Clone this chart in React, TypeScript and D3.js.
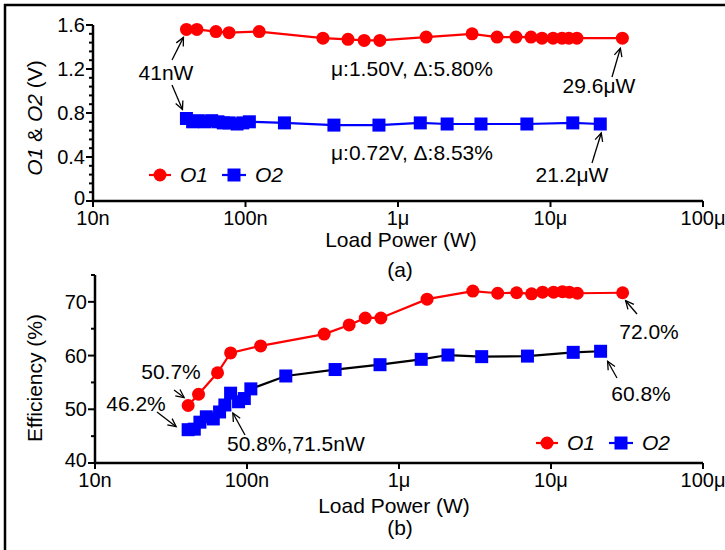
import * as d3 from 'd3'

const xTicks = [1e-8, 1e-7, 1e-6, 1e-5, 1e-4]
const xTickLabels = ['10n', '100n', '1μ', '10μ', '100μ']

const o1Power = [41e-9, 48e-9, 64e-9, 78e-9, 123e-9, 322e-9, 470e-9, 600e-9, 760e-9, 1.53e-6, 3.06e-6, 4.46e-6, 5.94e-6, 7.45e-6, 8.8e-6, 10.4e-6, 11.9e-6, 13.2e-6, 14.9e-6, 29.6e-6]
const o1Volt = [1.56, 1.56, 1.54, 1.53, 1.54, 1.48, 1.47, 1.46, 1.46, 1.49, 1.52, 1.49, 1.49, 1.49, 1.48, 1.48, 1.48, 1.48, 1.48, 1.48]
const o1Eff = [50.7, 52.8, 56.8, 60.5, 61.8, 64.0, 65.7, 67.0, 67.0, 70.5, 72.0, 71.6, 71.7, 71.5, 71.8, 71.8, 71.9, 71.8, 71.6, 71.7]

const o2Power = [41e-9, 45e-9, 49e-9, 54e-9, 60e-9, 66e-9, 71.5e-9, 78e-9, 88e-9, 96e-9, 106e-9, 180e-9, 380e-9, 750e-9, 1.4e-6, 2.1e-6, 3.5e-6, 7e-6, 14e-6, 21.2e-6]
const o2Volt = [0.75, 0.72, 0.73, 0.72, 0.73, 0.72, 0.71, 0.71, 0.70, 0.71, 0.72, 0.71, 0.69, 0.69, 0.71, 0.70, 0.70, 0.70, 0.71, 0.70]
const o2Eff = [46.2, 46.3, 47.6, 48.6, 48.2, 49.5, 50.8, 53.0, 51.4, 52.0, 53.8, 56.2, 57.4, 58.3, 59.3, 60.1, 59.8, 59.9, 60.6, 60.8]

const voltTicks = [0, 0.4, 0.8, 1.2, 1.6]
const effTicks = [40, 50, 60, 70]

const RED = '#ff0000'
const BLUE = '#0000ff'
const FONT = '"Liberation Sans", Arial, sans-serif'
const TICK_FS = 20
const TXT_FS = 21

// open arrow from (x1,y1) to tip (x2,y2)
const Arrow = ({ x1, y1, x2, y2 }) => {
  const a = Math.atan2(y2 - y1, x2 - x1)
  const L = 9, s = 0.45
  const p1 = [x2 - L * Math.cos(a - s), y2 - L * Math.sin(a - s)]
  const p2 = [x2 - L * Math.cos(a + s), y2 - L * Math.sin(a + s)]
  return (
    <g fill="none" stroke="#000" strokeWidth={1.3}>
      <line x1={x1} y1={y1} x2={x2} y2={y2} />
      <path d={`M${p1[0]},${p1[1]}L${x2},${y2}L${p2[0]},${p2[1]}`} />
    </g>
  )
}

const Square = ({ x, y, s = 13, fill = BLUE }) => (
  <rect x={x - s / 2} y={y - s / 2} width={s} height={s} fill={fill} />
)

const Series = ({ xs, ys, x, y, line, marker, fill }) => {
  const pts = xs.map((p, i) => [x(p), y(ys[i])])
  const path = d3.line()(pts)
  return (
    <g>
      <path d={path} fill="none" stroke={line} strokeWidth={2.2} />
      {pts.map(([px, py], i) =>
        marker === 'circle'
          ? <circle key={i} cx={px} cy={py} r={6.5} fill={fill} />
          : <Square key={i} x={px} y={py} fill={fill} />
      )}
    </g>
  )
}

const XAxis = ({ x, y0 }) => (
  <g>
    <line x1={x.range()[0]} x2={x.range()[1]} y1={y0} y2={y0} stroke="#000" strokeWidth={2.5} />
    {xTicks.map((t, i) => (
      <g key={i}>
        <line x1={x(t)} x2={x(t)} y1={y0} y2={y0 + 6} stroke="#000" strokeWidth={2} />
        <text x={x(t)} y={y0 + 24} textAnchor="middle" fontSize={TICK_FS}>{xTickLabels[i]}</text>
      </g>
    ))}
  </g>
)

const YAxis = ({ y, x0, ticks, minor, fmt }) => (
  <g>
    <line x1={x0} x2={x0} y1={y.range()[0] + 1} y2={y.range()[1]} stroke="#000" strokeWidth={2.5} />
    {minor.map((t, i) => (
      <line key={'m' + i} x1={x0 - 4} x2={x0} y1={y(t)} y2={y(t)} stroke="#000" strokeWidth={2} />
    ))}
    {ticks.map((t, i) => (
      <g key={i}>
        <line x1={x0 - 7} x2={x0} y1={y(t)} y2={y(t)} stroke="#000" strokeWidth={2} />
        <text x={x0 - 8} y={y(t) - (i === 0 ? 3 : 0)} dy="0.35em" textAnchor="end" fontSize={TICK_FS}>{fmt(t)}</text>
      </g>
    ))}
  </g>
)

const App = () => {
  const xA = d3.scaleLog().domain([1e-8, 1e-4]).range([93, 703])
  const yA = d3.scaleLinear().domain([0, 1.6]).range([201, 25])
  const xB = d3.scaleLog().domain([1e-8, 1e-4]).range([95, 703])
  const yB = d3.scaleLinear().domain([40, 75]).range([463, 275])

  const o1A = (i) => [xA(o1Power[i]), yA(o1Volt[i])]
  const o2A = (i) => [xA(o2Power[i]), yA(o2Volt[i])]
  const o1B = (i) => [xB(o1Power[i]), yB(o1Eff[i])]
  const o2B = (i) => [xB(o2Power[i]), yB(o2Eff[i])]
  const last1 = o1Power.length - 1
  const last2 = o2Power.length - 1
  const i715 = o2Power.indexOf(71.5e-9)

  const minorA = d3.range(0, 1.6001, 0.08)
  const minorB = [45, 55, 65, 75]

  return (
    <svg width={725} height={550} style={{ position: 'absolute', left: 0, top: 0, background: '#fff' }}
      fontFamily={FONT} fill="#000">
      {/* frame */}
      <line x1={4} x2={725} y1={5} y2={5} stroke="#000" strokeWidth={2.5} />
      <line x1={5} x2={5} y1={4} y2={550} stroke="#000" strokeWidth={2.5} />

      {/* panel (a) */}
      <YAxis y={yA} x0={93} ticks={voltTicks} minor={minorA} fmt={(t) => (t === 0 ? '0' : t.toFixed(1))} />
      <XAxis x={xA} y0={201} />
      <Series xs={o1Power} ys={o1Volt} x={xA} y={yA} line={RED} marker="circle" fill={RED} />
      <Series xs={o2Power} ys={o2Volt} x={xA} y={yA} line={BLUE} marker="square" fill={BLUE} />
      <text transform="translate(42,118) rotate(-90)" textAnchor="middle" fontSize={TXT_FS}>
        <tspan fontStyle="italic">O1</tspan> & <tspan fontStyle="italic">O2</tspan> (V)
      </text>
      <text x={401} y={247} textAnchor="middle" fontSize={TXT_FS}>Load Power (W)</text>
      <text x={400} y={277} textAnchor="middle" fontSize={TXT_FS}>(a)</text>

      <text x={166} y={80} textAnchor="middle" fontSize={TXT_FS}>41nW</text>
      <Arrow x1={172} y1={60} x2={o1A(0)[0] - 3} y2={o1A(0)[1] + 8} />
      <Arrow x1={172} y1={85} x2={o2A(0)[0] - 4} y2={o2A(0)[1] - 9} />
      <text x={331} y={76} fontSize={TXT_FS}>μ:1.50V, Δ:5.80%</text>
      <text x={331} y={160} fontSize={TXT_FS}>μ:0.72V, Δ:8.53%</text>
      <text x={599} y={93} textAnchor="middle" fontSize={TXT_FS}>29.6μW</text>
      <Arrow x1={612} y1={77} x2={o1A(last1)[0] - 2} y2={o1A(last1)[1] + 10} />
      <text x={572} y={182} textAnchor="middle" fontSize={TXT_FS}>21.2μW</text>
      <Arrow x1={592} y1={163} x2={o2A(last2)[0] + 1} y2={o2A(last2)[1] + 9} />

      {/* legend (a) */}
      <g>
        <line x1={149} x2={171} y1={175} y2={175} stroke={RED} strokeWidth={2.2} />
        <circle cx={160} cy={175} r={6.5} fill={RED} />
        <text x={180} y={182} fontSize={TXT_FS} fontStyle="italic">O1</text>
        <line x1={222} x2={246} y1={175} y2={175} stroke={BLUE} strokeWidth={2.2} />
        <Square x={234} y={175} />
        <text x={255} y={182} fontSize={TXT_FS} fontStyle="italic">O2</text>
      </g>

      {/* panel (b) */}
      <YAxis y={yB} x0={95} ticks={effTicks} minor={minorB} fmt={(t) => String(t)} />
      <XAxis x={xB} y0={463} />
      <Series xs={o2Power} ys={o2Eff} x={xB} y={yB} line="#000" marker="square" fill={BLUE} />
      <Series xs={o1Power} ys={o1Eff} x={xB} y={yB} line={RED} marker="circle" fill={RED} />
      <text transform="translate(42,378) rotate(-90)" textAnchor="middle" fontSize={TXT_FS}>Efficiency (%)</text>
      <text x={394} y={513} textAnchor="middle" fontSize={TXT_FS}>Load Power (W)</text>
      <text x={400} y={535} textAnchor="middle" fontSize={TXT_FS}>(b)</text>

      <text x={171} y={379} textAnchor="middle" fontSize={TXT_FS}>50.7%</text>
      <Arrow x1={174} y1={390} x2={o1B(0)[0] - 4} y2={o1B(0)[1] - 8} />
      <text x={136} y={411} textAnchor="middle" fontSize={TXT_FS}>46.2%</text>
      <Arrow x1={157} y1={412} x2={o2B(0)[0] - 12} y2={o2B(0)[1] - 3} />
      <text x={227} y={451} fontSize={TXT_FS}>50.8%,71.5nW</text>
      <Arrow x1={245} y1={435} x2={o2B(i715)[0] + 8} y2={o2B(i715)[1] + 8} />
      <text x={649} y={339} textAnchor="middle" fontSize={TXT_FS}>72.0%</text>
      <Arrow x1={637} y1={314} x2={o1B(last1)[0] + 3} y2={o1B(last1)[1] + 8} />
      <text x={641} y={401} textAnchor="middle" fontSize={TXT_FS}>60.8%</text>
      <Arrow x1={617} y1={378} x2={o2B(last2)[0] + 7} y2={o2B(last2)[1] + 10} />

      {/* legend (b) */}
      <g>
        <line x1={536} x2={558} y1={443} y2={443} stroke={RED} strokeWidth={2.2} />
        <circle cx={547} cy={443} r={6.5} fill={RED} />
        <text x={567} y={450} fontSize={TXT_FS} fontStyle="italic">O1</text>
        <line x1={609} x2={633} y1={443} y2={443} stroke={BLUE} strokeWidth={2.2} />
        <Square x={621} y={443} />
        <text x={642} y={450} fontSize={TXT_FS} fontStyle="italic">O2</text>
      </g>
    </svg>
  )
}

export default App
